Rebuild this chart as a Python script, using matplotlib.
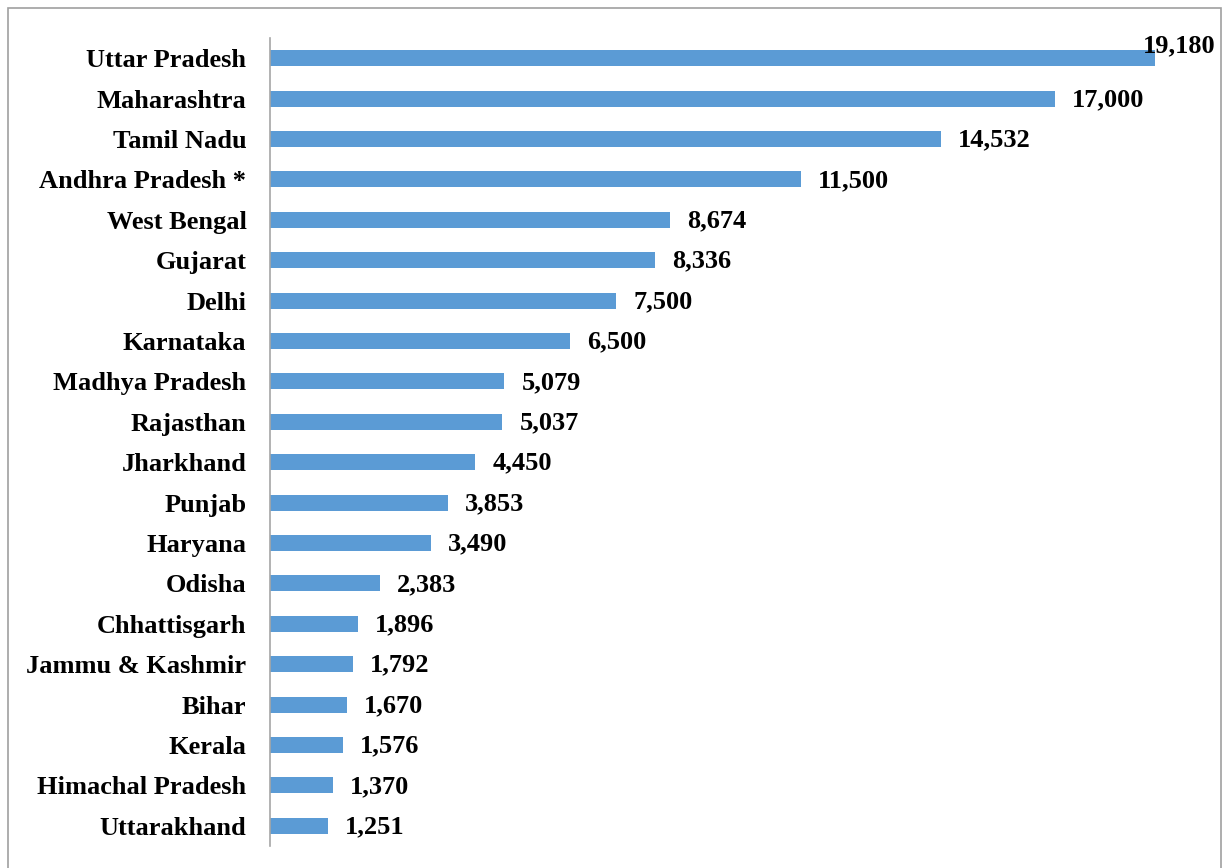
import matplotlib.pyplot as plt
from matplotlib.patches import Rectangle

# States and their values (top to bottom as shown)
states = ['Uttar Pradesh', 'Maharashtra', 'Tamil Nadu', 'Andhra Pradesh *',
          'West Bengal', 'Gujarat', 'Delhi', 'Karnataka', 'Madhya Pradesh',
          'Rajasthan', 'Jharkhand', 'Punjab', 'Haryana', 'Odisha',
          'Chhattisgarh', 'Jammu & Kashmir', 'Bihar', 'Kerala',
          'Himachal Pradesh', 'Uttarakhand']
values = [19180, 17000, 14532, 11500, 8674, 8336, 7500, 6500, 5079, 5037,
          4450, 3853, 3490, 2383, 1896, 1792, 1670, 1576, 1370, 1251]

plt.rcParams['font.family'] = ['Liberation Serif', 'DejaVu Serif']
plt.rcParams['font.weight'] = 'bold'

W, H = 1223, 868
fig = plt.figure(figsize=(W / 100, H / 100), dpi=100)
ax = fig.add_axes([270 / W, 1 - 846 / H, (1193 - 270) / W, (846 - 38) / H])

ypos = list(range(len(states)))
ax.barh(ypos, values, height=0.40, color='#5B9BD5')
ax.set_ylim(len(states) - 0.5, -0.5)
ax.set_xlim(0, 20000)

ax.set_yticks(ypos)
ax.set_yticklabels(states, fontsize=19, fontweight='bold')
ax.tick_params(axis='y', length=0, pad=17)
ax.set_xticks([])
for s in ['top', 'right', 'bottom']:
    ax.spines[s].set_visible(False)
ax.spines['left'].set_color('#A6A6A6')
ax.spines['left'].set_linewidth(1.2)

# value labels
for i, v in enumerate(values):
    if i == 0:
        # largest label sits over the bar end, a bit higher
        ax.annotate(f'{v:,}', (v, i), xytext=(60, 12), textcoords='offset pixels',
                    ha='right', va='center', fontsize=19, fontweight='bold')
    else:
        ax.annotate(f'{v:,}', (v, i), xytext=(17, -1), textcoords='offset pixels',
                    ha='left', va='center', fontsize=19, fontweight='bold')

# outer frame
fig.patches.append(Rectangle((8 / W, -0.05), (1221 - 8) / W, 1.05 - 8 / H,
                             transform=fig.transFigure, fill=False,
                             edgecolor='#A0A0A0', linewidth=1.2))

fig.savefig('out.png', dpi=100)
